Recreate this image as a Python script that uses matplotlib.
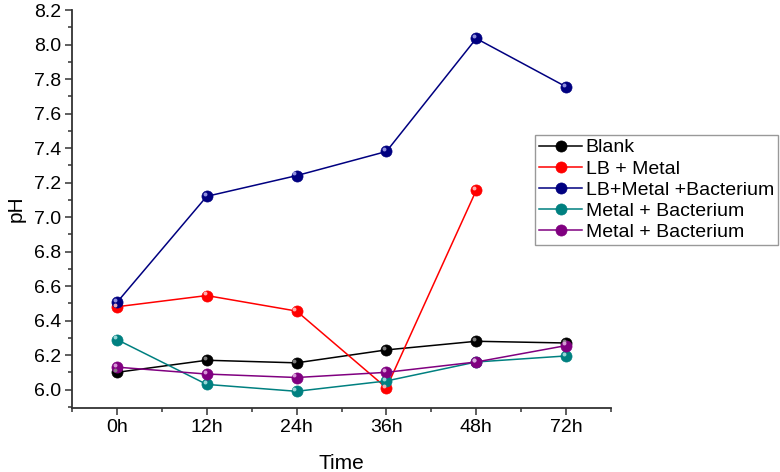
import numpy as np
import matplotlib
matplotlib.use("Agg")
import matplotlib.pyplot as plt
from matplotlib.ticker import MultipleLocator
import matplotlib.transforms as mtransforms

plt.rcParams['font.family'] = ['Liberation Sans', 'DejaVu Sans']

time_labels = ["0h", "12h", "24h", "36h", "48h", "72h"]
blank = [6.10, 6.17, 6.155, 6.23, 6.28, 6.27]
lb_metal = [6.48, 6.545, 6.455, 6.01, 7.155, np.nan]
lb_metal_bact = [6.505, 7.12, 7.24, 7.38, 8.035, 7.755]
metal_bact_1 = [6.29, 6.03, 5.99, 6.05, 6.16, 6.195]
metal_bact_2 = [6.13, 6.09, 6.07, 6.10, 6.16, 6.255]

series = [
    ("Blank", blank, "#000000", "#8a8a8a"),
    ("LB + Metal", lb_metal, "#FF0000", "#FFC0C0"),
    ("LB+Metal +Bacterium", lb_metal_bact, "#000080", "#A0A0E8"),
    ("Metal + Bacterium", metal_bact_1, "#008080", "#A8E0E0"),
    ("Metal + Bacterium", metal_bact_2, "#800080", "#E0A8E0"),
]

fig = plt.figure(figsize=(7.8, 4.72), dpi=100)
ax = fig.add_axes([72/780, 1-407.7/472, (611-72)/780, (407.7-10)/472])

x = np.arange(len(time_labels))
handles = []
offset = mtransforms.ScaledTranslation(-1.6/72, 1.6/72, fig.dpi_scale_trans)
for name, vals, col, hl in series:
    h, = ax.plot(x, vals, '-', color=col, lw=1.1, marker='o', markersize=8,
                 markerfacecolor=col, markeredgecolor=col, markeredgewidth=0.5,
                 label=name, zorder=3)
    ax.plot(x, vals, linestyle='none', marker='o', markersize=2.8,
            markerfacecolor=hl, markeredgecolor='none', alpha=0.9,
            transform=ax.transData + offset, zorder=4)
    handles.append(h)

ax.set_xlim(-0.5, 5.5)
ax.set_ylim(5.895, 8.2)
ax.set_xticks(x)
ax.set_xticklabels(time_labels)
ax.xaxis.set_minor_locator(MultipleLocator(0.5))
ax.yaxis.set_minor_locator(MultipleLocator(0.1))
yt = np.round(np.arange(6.0, 8.21, 0.2), 1)
ax.set_yticks(yt)
ax.set_yticklabels([f"{v:.1f}" for v in yt])

for s in ['top', 'right']:
    ax.spines[s].set_visible(False)
for s in ['left', 'bottom']:
    ax.spines[s].set_color('#333333')
    ax.spines[s].set_linewidth(1.3)

ax.tick_params(axis='both', which='major', direction='out', length=5, width=1.1,
               labelsize=14, color='#333333', pad=3)
ax.tick_params(axis='both', which='minor', direction='out', length=3, width=1.1,
               color='#333333')

ax.set_xlabel("Time", fontsize=15, labelpad=13)
ax.set_ylabel("pH", fontsize=15, labelpad=6)

leg = fig.legend(handles=handles, loc='upper right',
                 bbox_to_anchor=(778/780, 1-135/472), bbox_transform=fig.transFigure,
                 fontsize=14, frameon=True, fancybox=False, edgecolor='#808080',
                 handlelength=2.2, handletextpad=0.2, labelspacing=0.18,
                 borderpad=0.2, borderaxespad=0)
leg.get_frame().set_linewidth(1.0)

fig.savefig("out.png", dpi=100)
